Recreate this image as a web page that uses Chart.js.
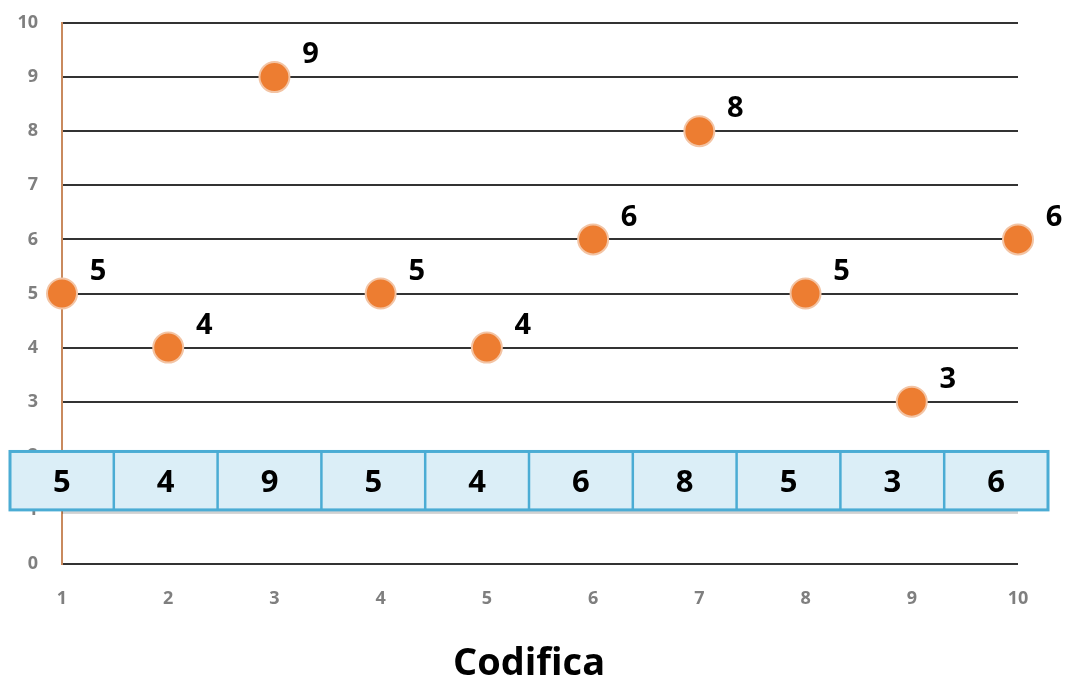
<!DOCTYPE html>
<html>
<head>
<meta charset="utf-8">
<script src="https://cdn.jsdelivr.net/npm/chart.js@4/dist/chart.umd.min.js"></script>
<style>
  html, body { margin: 0; padding: 0; background: #ffffff; }
  #wrap { width: 1070px; height: 684px; }
</style>
</head>
<body>
<div id="wrap"><canvas id="c" width="1070" height="684"></canvas></div>
<script>
// Codes on the x axis and the value recorded for each
const codes = [1, 2, 3, 4, 5, 6, 7, 8, 9, 10];
const values = [5, 4, 9, 5, 4, 6, 8, 5, 3, 6];
const yTicks = [0, 1, 2, 3, 4, 5, 6, 7, 8, 9, 10];
const axisTitle = 'Codifica';

const points = codes.map((c, i) => ({ x: c, y: values[i] }));
const FONT = '"Open Sans", "Noto Sans", sans-serif';

// Bold value label above-right of each point
const pointLabels = {
  id: 'pointLabels',
  afterDatasetsDraw(chart) {
    const ctx = chart.ctx;
    const meta = chart.getDatasetMeta(0);
    ctx.save();
    ctx.font = 'bold 29px ' + FONT;
    ctx.fillStyle = '#000000';
    ctx.textAlign = 'center';
    ctx.textBaseline = 'middle';
    meta.data.forEach((el, i) => {
      ctx.fillText(String(values[i]), el.x + 36, el.y - 22);
    });
    ctx.restore();
  }
};

// Row of value cells laid across the lower part of the plot, plus the axis title
const valueTable = {
  id: 'valueTable',
  afterDraw(chart) {
    const ctx = chart.ctx;
    const ys = chart.scales.y;
    const top = ys.getPixelForValue(2.08);
    const bottom = ys.getPixelForValue(1.0);
    const left = 10, right = 1048;
    const w = (right - left) / values.length;
    ctx.save();
    // soft shadow under the row
    ctx.fillStyle = 'rgba(0,0,0,0.18)';
    ctx.fillRect(chart.chartArea.left, bottom + 1, chart.chartArea.right - chart.chartArea.left, 3);
    ctx.fillStyle = '#dbeef7';
    ctx.fillRect(left, top, right - left, bottom - top);
    ctx.strokeStyle = '#4bacd4';
    ctx.lineWidth = 3;
    ctx.strokeRect(left, top, right - left, bottom - top);
    ctx.lineWidth = 2.5;
    for (let i = 1; i < values.length; i++) {
      const x = left + w * i;
      ctx.beginPath();
      ctx.moveTo(x, top);
      ctx.lineTo(x, bottom);
      ctx.stroke();
    }
    ctx.font = 'bold 31px ' + FONT;
    ctx.fillStyle = '#000000';
    ctx.textAlign = 'center';
    ctx.textBaseline = 'middle';
    values.forEach((v, i) => {
      ctx.fillText(String(v), left + w * (i + 0.5), (top + bottom) / 2 + 2);
    });

    ctx.font = 'bold 38px ' + FONT;
    ctx.fillText(axisTitle, 529, 664);
    ctx.restore();
  }
};

new Chart(document.getElementById('c'), {
  type: 'scatter',
  data: {
    datasets: [{
      data: points,
      backgroundColor: '#ed7d31',
      borderColor: '#f3c4a4',
      borderWidth: 2,
      pointRadius: 15,
      pointHoverRadius: 15,
      clip: false
    }]
  },
  options: {
    responsive: false,
    animation: false,
    layout: { padding: { top: 23, right: 52, left: 0, bottom: 0 } },
    plugins: {
      legend: { display: false },
      tooltip: { enabled: false }
    },
    scales: {
      x: {
        type: 'linear',
        min: 1,
        max: 10,
        afterFit(scale) {
          scale.height = 120;
          scale.paddingLeft = 0;
          scale.paddingRight = 0;
        },
        afterBuildTicks(scale) { scale.ticks = codes.map(v => ({ value: v })); },
        grid: { display: false, drawTicks: false },
        border: { display: false },
        ticks: {
          padding: 24,
          color: '#7f7f7f',
          font: { family: FONT, size: 18, weight: 'bold' }
        }
      },
      y: {
        min: 0,
        max: 10,
        afterFit(scale) {
          scale.width = 62;
          scale.paddingTop = 0;
          scale.paddingBottom = 0;
        },
        afterBuildTicks(scale) { scale.ticks = yTicks.map(v => ({ value: v })); },
        grid: { color: '#333333', lineWidth: 2, drawTicks: false },
        border: { display: true, color: '#c98a5e', width: 2 },
        ticks: {
          padding: 24,
          color: '#7f7f7f',
          font: { family: FONT, size: 18, weight: 'bold' }
        }
      }
    }
  },
  plugins: [pointLabels, valueTable]
});
</script>
</body>
</html>
